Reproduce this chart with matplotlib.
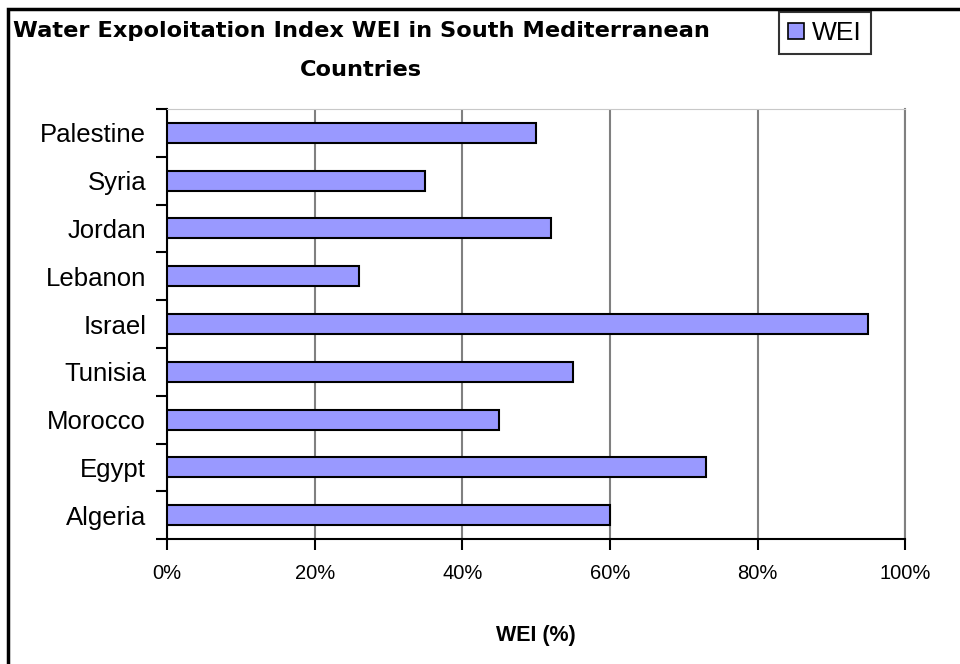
import numpy as np
import matplotlib.pyplot as plt
from matplotlib.patches import Rectangle, Patch
from matplotlib.ticker import FuncFormatter, FixedLocator

plt.rcParams['font.family'] = ['Liberation Sans', 'DejaVu Sans']

countries = ['Algeria', 'Egypt', 'Morocco', 'Tunisia', 'Israel',
             'Lebanon', 'Jordan', 'Syria', 'Palestine']
wei = [60, 73, 45, 55, 95, 26, 52, 35, 50]
xticks = [0, 20, 40, 60, 80, 100]

fig = plt.figure(figsize=(9.6, 6.64), dpi=100)
ax = fig.add_axes([0.174, 0.188, 0.769, 0.648])

y = np.arange(len(countries))
ax.barh(y, wei, height=0.42, color='#9999FF', edgecolor='black',
        linewidth=1.5, zorder=3, label='WEI')

ax.set_xlim(0, 100)
ax.set_ylim(-0.5, len(countries) - 0.5)
ax.set_xticks(xticks)
ax.xaxis.set_major_formatter(FuncFormatter(lambda v, p: f'{v:.0f}%'))
ax.grid(axis='x', color='#808080', linewidth=1.5, zorder=1)

# category labels sit between the tick marks
ax.set_yticks(y)
ax.set_yticklabels(countries)
ax.yaxis.set_minor_locator(FixedLocator(np.arange(-0.5, len(countries), 1)))
ax.tick_params(axis='y', which='major', length=0, pad=15, labelsize=18.5)
ax.tick_params(axis='y', which='minor', length=8, width=1.5, direction='out')
ax.tick_params(axis='x', length=8, width=1.5, direction='out', pad=10,
               labelsize=14.5)

for s in ['left', 'bottom']:
    ax.spines[s].set_linewidth(1.5)
ax.spines['top'].set_color('#c8c8c8')
ax.spines['right'].set_color('#808080')
ax.spines['right'].set_linewidth(1.5)

ax.set_xlabel('WEI (%)', fontsize=15.5, fontweight='bold', labelpad=30)

fig.text(0.376, 0.924, 'Water Expoloitation Index WEI in South Mediterranean\nCountries',
         ha='center', va='center', fontsize=16.2, fontweight='bold',
         family='DejaVu Sans', linespacing=2.15)

leg = fig.legend(handles=[Patch(facecolor='#9999FF', edgecolor='black', linewidth=1.2)],
                 labels=['WEI'], loc='upper left', bbox_to_anchor=(0.811, 0.982),
                 fontsize=19, frameon=True, fancybox=False, edgecolor='black',
                 handlelength=0.6, handleheight=0.6, handletextpad=0.3,
                 borderpad=0.35, borderaxespad=0)
leg.get_frame().set_linewidth(1.5)

# outer chart frame
fig.add_artist(Rectangle((7.5 / 960, -0.1), 1.2, 1.1 - 8.5 / 664,
                         transform=fig.transFigure, fill=False,
                         edgecolor='black', linewidth=2.5))

fig.savefig('out.png', dpi=100)
